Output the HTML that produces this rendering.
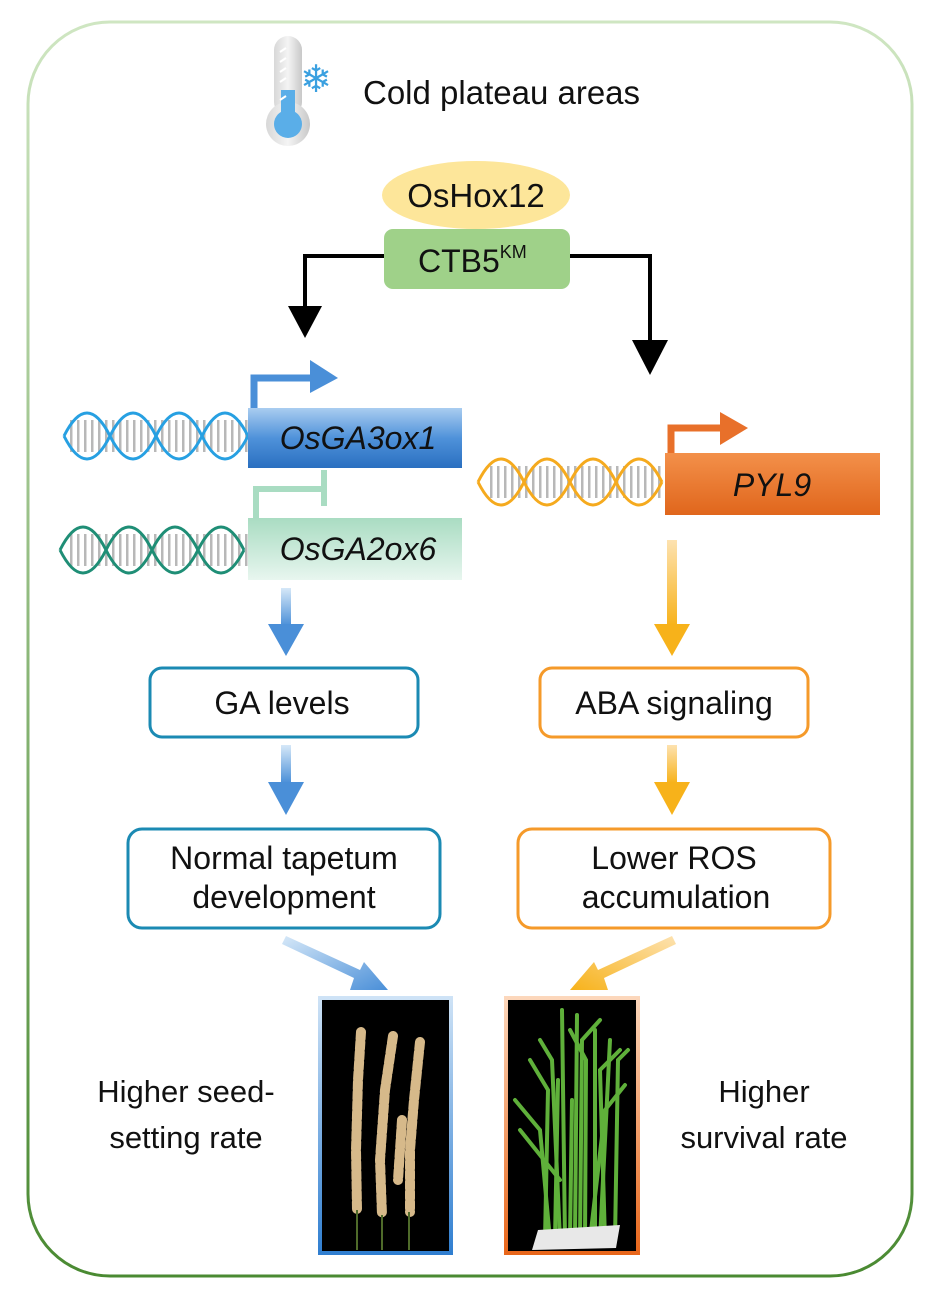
<!DOCTYPE html>
<html><head><meta charset="utf-8"><style>
html,body{margin:0;padding:0;background:#fff;}
svg{display:block;}
text{font-family:"Liberation Sans",Arial,sans-serif;}
</style></head><body>
<svg width="938" height="1304" viewBox="0 0 938 1304" xmlns="http://www.w3.org/2000/svg">
<defs>
<linearGradient id="frame" x1="0" y1="0" x2="0" y2="1"><stop offset="0" stop-color="#cfe6c2"/><stop offset="1" stop-color="#4a8a32"/></linearGradient>
<linearGradient id="blueBox" x1="0" y1="0" x2="0" y2="1"><stop offset="0" stop-color="#a9cdf0"/><stop offset="0.5" stop-color="#4f92da"/><stop offset="1" stop-color="#2a6fc0"/></linearGradient>
<linearGradient id="greenBox" x1="0" y1="0" x2="0" y2="1"><stop offset="0" stop-color="#a9dcc2"/><stop offset="1" stop-color="#e8f6ef"/></linearGradient>
<linearGradient id="orBox" x1="0" y1="0" x2="0" y2="1"><stop offset="0" stop-color="#f3904a"/><stop offset="1" stop-color="#e0661c"/></linearGradient>
<linearGradient id="blueArr" x1="0" y1="0" x2="0" y2="1"><stop offset="0" stop-color="#d6e8f8"/><stop offset="1" stop-color="#4a8fd8"/></linearGradient>
<linearGradient id="orArr" x1="0" y1="0" x2="0" y2="1"><stop offset="0" stop-color="#fde2b0"/><stop offset="1" stop-color="#f7b21a"/></linearGradient>
<linearGradient id="blueDiag" x1="0" y1="0" x2="1" y2="1"><stop offset="0" stop-color="#d6e8f8"/><stop offset="1" stop-color="#4a8fd8"/></linearGradient>
<linearGradient id="orDiag" x1="1" y1="0" x2="0" y2="1"><stop offset="0" stop-color="#fde2b0"/><stop offset="1" stop-color="#f7b21a"/></linearGradient>
<linearGradient id="bFrame" x1="0" y1="0" x2="0" y2="1"><stop offset="0" stop-color="#cfe3f6"/><stop offset="1" stop-color="#2f7ed0"/></linearGradient>
<linearGradient id="oFrame" x1="0" y1="0" x2="0" y2="1"><stop offset="0" stop-color="#fcd8bd"/><stop offset="1" stop-color="#e8661a"/></linearGradient>
<linearGradient id="therm" x1="0" y1="0" x2="1" y2="0"><stop offset="0" stop-color="#d8d8d8"/><stop offset="0.5" stop-color="#f4f4f4"/><stop offset="1" stop-color="#c8c8c8"/></linearGradient>
<pattern id="rungs" width="7" height="40" patternUnits="userSpaceOnUse"><rect x="0" y="0" width="2.5" height="40" fill="#b8b8b8"/></pattern>
</defs>

<rect x="28" y="22" width="884" height="1254" rx="82" fill="#fff" stroke="url(#frame)" stroke-width="3"/>

<!-- thermometer -->
<rect x="274" y="36" width="28" height="80" rx="14" fill="url(#therm)"/>
<circle cx="288" cy="124" r="22" fill="url(#therm)"/>
<rect x="281" y="90" width="14" height="36" fill="#5aaee8"/>
<circle cx="288" cy="124" r="14" fill="#5aaee8"/>
<g stroke="#fff" stroke-width="2"><line x1="280" y1="52" x2="286" y2="48"/><line x1="280" y1="62" x2="286" y2="58"/><line x1="280" y1="72" x2="286" y2="68"/><line x1="280" y1="82" x2="286" y2="78"/><line x1="280" y1="100" x2="286" y2="96"/></g>
<text x="316" y="92" font-size="38" fill="#3aa0e0" text-anchor="middle">❄</text>
<text x="363" y="104" font-size="33" fill="#111">Cold plateau areas</text>

<!-- OsHox12 / CTB5 -->
<ellipse cx="476" cy="195" rx="94" ry="34" fill="#fde69a"/>
<text x="476" y="207" font-size="33" text-anchor="middle" fill="#111">OsHox12</text>
<rect x="384" y="229" width="186" height="60" rx="9" fill="#9fd189"/>
<text x="418" y="272" font-size="32" fill="#111">CTB5<tspan font-size="18" dy="-14">KM</tspan></text>

<!-- black connectors -->
<polyline points="384,256 305,256 305,310" fill="none" stroke="#000" stroke-width="4"/>
<polygon points="288,306 322,306 305,338" fill="#000"/>
<polyline points="570,256 650,256 650,345" fill="none" stroke="#000" stroke-width="4"/>
<polygon points="632,340 668,340 650,375" fill="#000"/>

<!-- DNA left blue -->
<rect x="70" y="420" width="178" height="32" fill="url(#rungs)"/>
<path d="M64 436 q23 -46 46 0 t46 0 t46 0 t46 0" fill="none" stroke="#27a0e2" stroke-width="3"/>
<path d="M64 436 q23 46 46 0 t46 0 t46 0 t46 0" fill="none" stroke="#27a0e2" stroke-width="3"/>
<rect x="248" y="408" width="214" height="60" fill="url(#blueBox)"/>
<text x="358" y="449" font-size="32" font-style="italic" text-anchor="middle" fill="#111">OsGA3ox1</text>
<polyline points="254,408 254,378 312,378" fill="none" stroke="#4a8fd8" stroke-width="7"/>
<polygon points="310,360 338,378 310,393" fill="#4a8fd8"/>

<!-- inhibition -->
<polyline points="256,518 256,489 324,489" fill="none" stroke="#a9dcc2" stroke-width="6"/>
<line x1="324" y1="470" x2="324" y2="506" stroke="#a9dcc2" stroke-width="6"/>

<!-- DNA teal -->
<rect x="68" y="534" width="180" height="32" fill="url(#rungs)"/>
<path d="M60 550 q23 -46 46 0 t46 0 t46 0 t46 0" fill="none" stroke="#1f8e76" stroke-width="3"/>
<path d="M60 550 q23 46 46 0 t46 0 t46 0 t46 0" fill="none" stroke="#1f8e76" stroke-width="3"/>
<rect x="248" y="518" width="214" height="62" fill="url(#greenBox)"/>
<text x="358" y="560" font-size="32" font-style="italic" text-anchor="middle" fill="#111">OsGA2ox6</text>

<!-- DNA orange -->
<rect x="486" y="466" width="178" height="32" fill="url(#rungs)"/>
<path d="M478 482 q23 -46 46 0 t46 0 t46 0 t46 0" fill="none" stroke="#f5aa1e" stroke-width="3"/>
<path d="M478 482 q23 46 46 0 t46 0 t46 0 t46 0" fill="none" stroke="#f5aa1e" stroke-width="3"/>
<rect x="665" y="453" width="215" height="62" fill="url(#orBox)"/>
<text x="772" y="496" font-size="32" font-style="italic" text-anchor="middle" fill="#111">PYL9</text>
<polyline points="671,453 671,428 722,428" fill="none" stroke="#e8702a" stroke-width="7"/>
<polygon points="720,412 748,428 720,445" fill="#e8702a"/>

<!-- vertical arrows -->
<rect x="281" y="588" width="10" height="38" fill="url(#blueArr)"/>
<polygon points="268,624 304,624 286,656" fill="#4a8fd8"/>
<rect x="667" y="540" width="10" height="86" fill="url(#orArr)"/>
<polygon points="654,624 690,624 672,656" fill="#f7b21a"/>
<rect x="281" y="745" width="10" height="38" fill="url(#blueArr)"/>
<polygon points="268,782 304,782 286,815" fill="#4a8fd8"/>
<rect x="667" y="745" width="10" height="38" fill="url(#orArr)"/>
<polygon points="654,782 690,782 672,815" fill="#f7b21a"/>

<!-- boxes -->
<rect x="150" y="668" width="268" height="69" rx="12" fill="#fff" stroke="#1b8ab3" stroke-width="3"/>
<text x="282" y="714" font-size="32" text-anchor="middle" fill="#111">GA levels</text>
<rect x="540" y="668" width="268" height="69" rx="12" fill="#fff" stroke="#f59a2a" stroke-width="3"/>
<text x="674" y="714" font-size="32" text-anchor="middle" fill="#111">ABA signaling</text>
<rect x="128" y="829" width="312" height="99" rx="14" fill="#fff" stroke="#1b8ab3" stroke-width="3"/>
<text x="284" y="869" font-size="32" text-anchor="middle" fill="#111">Normal tapetum</text>
<text x="284" y="908" font-size="32" text-anchor="middle" fill="#111">development</text>
<rect x="518" y="829" width="312" height="99" rx="14" fill="#fff" stroke="#f59a2a" stroke-width="3"/>
<text x="674" y="869" font-size="32" text-anchor="middle" fill="#111">Lower ROS</text>
<text x="676" y="908" font-size="32" text-anchor="middle" fill="#111">accumulation</text>

<!-- diagonal arrows -->
<polygon points="282,944 286,936 360,970 364,962 388,990 350,990 354,978" fill="url(#blueDiag)"/>
<polygon points="676,944 672,936 598,970 594,962 570,990 608,990 604,978" fill="url(#orDiag)"/>

<!-- photos -->
<rect x="318" y="996" width="135" height="259" fill="url(#bFrame)"/>
<rect x="322" y="1000" width="127" height="251" fill="#000"/>
<g stroke="#d6b98a" stroke-width="10" stroke-linecap="round" fill="none" stroke-dasharray="7 3">
<path d="M361 1032 L358 1080 L356 1150 L357 1210"/>
<path d="M393 1036 L385 1090 L380 1160 L382 1215"/>
<path d="M420 1042 L414 1100 L410 1150 L410 1212"/>
<path d="M402 1120 L398 1180"/>
</g>
<g stroke="#4f6b2a" stroke-width="2"><line x1="357" y1="1210" x2="357" y2="1250"/><line x1="382" y1="1215" x2="382" y2="1250"/><line x1="409" y1="1212" x2="409" y2="1250"/></g>
<rect x="504" y="996" width="136" height="259" fill="url(#oFrame)"/>
<rect x="508" y="1000" width="128" height="251" fill="#000"/>
<g stroke="#5fb03a" stroke-width="4" fill="none" stroke-linecap="round">
<path d="M545 1240 L548 1090 L530 1060"/><path d="M555 1240 L558 1080"/><path d="M565 1240 L562 1010"/>
<path d="M575 1240 L577 1015"/><path d="M585 1240 L586 1060 L570 1030"/><path d="M595 1240 L595 1030"/>
<path d="M605 1240 L600 1070 L620 1050"/><path d="M615 1240 L618 1060 L628 1050"/><path d="M560 1180 L520 1130"/>
<path d="M550 1240 L540 1130 L515 1100"/><path d="M590 1240 L605 1110 L625 1085"/><path d="M570 1240 L572 1100"/>
<path d="M580 1240 L582 1040 L600 1020"/><path d="M600 1240 L610 1040"/><path d="M560 1240 L552 1060 L540 1040"/>
</g>
<polygon points="538,1230 620,1225 616,1248 532,1250" fill="#e8e8e8"/>

<!-- outcome text -->
<text x="186" y="1102" font-size="31" text-anchor="middle" fill="#111">Higher seed-</text>
<text x="186" y="1148" font-size="31" text-anchor="middle" fill="#111">setting rate</text>
<text x="764" y="1102" font-size="31" text-anchor="middle" fill="#111">Higher</text>
<text x="764" y="1148" font-size="31" text-anchor="middle" fill="#111">survival rate</text>
</svg>
</body></html>
